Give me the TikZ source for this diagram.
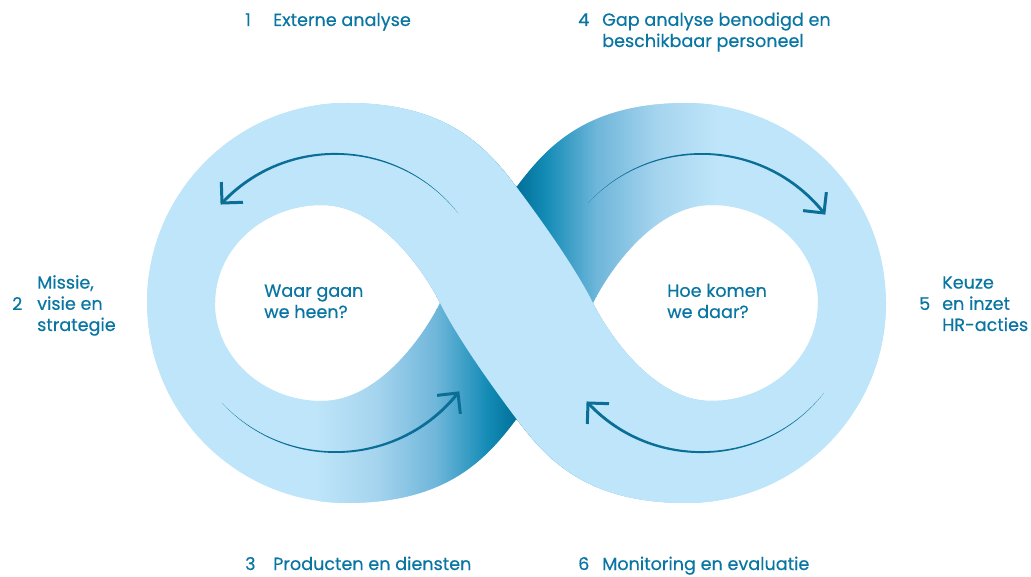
\documentclass[tikz,border=0pt]{standalone}
\usepackage{fontspec}
\setmainfont{Poppins}[FakeBold=0.4]
\usetikzlibrary{calc}

\definecolor{ribbon}{RGB}{190,229,249}
\definecolor{deep}{RGB}{0,112,152}
\definecolor{deepA}{RGB}{20,140,182}
\definecolor{deepB}{RGB}{110,182,218}
\definecolor{deepC}{RGB}{165,212,238}
\definecolor{arrowblue}{RGB}{10,110,150}
\definecolor{textblue}{RGB}{8,117,162}

\tikzset{
  numtext/.style={anchor=base west, inner sep=0pt, text=textblue,
    font=\fontsize{17.6}{21.2}\selectfont},
  steptext/.style={numtext, align=left},
}

% tapered arrow: tail, control 1, control 2, head, centre of the bend
\newcommand{\loopArrow}[5]{%
  \fill[arrowblue] (#1) .. controls ($(#2)!-0.8pt!(#5)$) and ($(#3)!-1.4pt!(#5)$) .. ($(#4)!-1.5pt!(#5)$)
    -- ($(#4)!1.5pt!(#5)$) .. controls ($(#3)!1.4pt!(#5)$) and ($(#2)!0.8pt!(#5)$) .. (#1) -- cycle;
  \draw[arrowblue, line width=3pt, miter limit=4]
    ($(#4)!21pt!45:(#3)$) -- (#4) -- ($(#4)!21pt!-45:(#3)$);
}

\newcommand{\outlinepath}{(Ptop) .. controls (486.5,429) and (447,473) .. (TL)
  .. controls (236.5,473) and (147,383.5) .. (LL)
  .. controls (147,162.5) and (236.5,73) .. (BL)
  .. controls (447,73) and (486.5,117) .. (Pbot)
  .. controls (546.5,117) and (586,73) .. (BR)
  .. controls (796.5,73) and (886,162.5) .. (RR)
  .. controls (886,383.5) and (796.5,473) .. (TR)
  .. controls (586,473) and (546.5,429) .. (Ptop) -- cycle}
\newcommand{\holespath}{(XL) .. controls (422.1,308.8) and (377,371) .. (HLt)
  .. controls (263,371) and (215,327) .. (HLl)
  .. controls (215,219) and (263,175) .. (HLb)
  .. controls (377,175) and (422.1,237.2) .. (XL) -- cycle
  (XR) .. controls (610.9,308.8) and (656,371) .. (HRt)
  .. controls (770,371) and (818,327) .. (HRr)
  .. controls (818,219) and (770,175) .. (HRb)
  .. controls (656,175) and (610.9,237.2) .. (XR) -- cycle}

\begin{document}
\begin{tikzpicture}[x=1pt, y=1pt]
  \useasboundingbox (0,0) rectangle (1031,576);

  % crossing and loops
  \coordinate (Ptop) at (516.5,389);
  \coordinate (Pbot) at (516.5,157);
  \coordinate (XL) at (440,273);
  \coordinate (XR) at (593,273);
  \coordinate (TL) at (347,473);
  \coordinate (LL) at (147,273);
  \coordinate (BL) at (347,73);
  \coordinate (TR) at (686,473);
  \coordinate (RR) at (886,273);
  \coordinate (BR) at (686,73);
  \coordinate (HLt) at (322,371);
  \coordinate (HLl) at (215,273);
  \coordinate (HLb) at (322,175);
  \coordinate (HRt) at (711,371);
  \coordinate (HRr) at (818,273);
  \coordinate (HRb) at (711,175);

  \fill[ribbon, even odd rule] \outlinepath \holespath;

  % shaded strand behind the crossing
  \begin{scope}[even odd rule]
    \clip \outlinepath \holespath;
    \shade[left color=ribbon, right color=deepC] (316.5,60) rectangle (377,480);
    \shade[left color=deepC, right color=deepB] (376.5,60) rectangle (437,480);
    \shade[left color=deepB, right color=deepA] (436.5,60) rectangle (487,480);
    \shade[left color=deepA, right color=deep] (486.5,60) rectangle (517,480);
    \shade[left color=deep, right color=deepA] (516,60) rectangle (546.5,480);
    \shade[left color=deepA, right color=deepB] (546,60) rectangle (596.5,480);
    \shade[left color=deepB, right color=deepC] (596,60) rectangle (656.5,480);
    \shade[left color=deepC, right color=ribbon] (656,60) rectangle (716.5,480);
  \end{scope}

  % strand in front
  \fill[ribbon] (LL) .. controls (147,383.5) and (236.5,473) .. (TL)
    .. controls (447,473) and (486.5,429) .. (Ptop)
    .. controls (540.5,357) and (575.1,308.8) .. (XR)
    .. controls (610.9,237.2) and (656,175) .. (HRb)
    .. controls (770,175) and (818,219) .. (HRr)
    -- (RR)
    .. controls (886,162.5) and (796.5,73) .. (BR)
    .. controls (586,73) and (546.5,117) .. (Pbot)
    .. controls (492.5,189) and (457.9,237.2) .. (XL)
    .. controls (422.1,308.8) and (377,371) .. (HLt)
    .. controls (263,371) and (215,327) .. (HLl)
    -- cycle;

  % arrows
  \coordinate (a1s) at (458,363);   \coordinate (a1e) at (222,373);
  \coordinate (a1p) at (398.7,437.5); \coordinate (a1q) at (287,442.4);
  \coordinate (a1c) at (336,266);
  \coordinate (a2s) at (222,173);   \coordinate (a2e) at (458,183);
  \coordinate (a2p) at (287,103.6); \coordinate (a2q) at (398.7,108.5);
  \coordinate (a2c) at (336,280);
  \coordinate (a3s) at (588,373);   \coordinate (a3e) at (824,363);
  \coordinate (a3p) at (653,442.4); \coordinate (a3q) at (764.7,437.5);
  \coordinate (a3c) at (702,266);
  \coordinate (a4s) at (824,183);   \coordinate (a4e) at (588,173);
  \coordinate (a4p) at (764.7,108.5); \coordinate (a4q) at (653,103.6);
  \coordinate (a4c) at (702,280);
  \loopArrow{a1s}{a1p}{a1q}{a1e}{a1c}
  \loopArrow{a2s}{a2p}{a2q}{a2e}{a2c}
  \loopArrow{a3s}{a3p}{a3q}{a3e}{a3c}
  \loopArrow{a4s}{a4p}{a4q}{a4e}{a4c}

  % steps (multi-line texts sit on their last baseline)
  \node[numtext] (N1) at (245,550) {1};
  \node[steptext] (T1) at (273,550) {Externe analyse};
  \node[numtext] (N4) at (578,550) {4};
  \node[steptext] (T4) at (602,529) {Gap analyse benodigd en\\beschikbaar personeel};
  \node[numtext] (N2) at (12,266) {2};
  \node[steptext] (T2) at (37,245) {Missie,\\visie en\\strategie};
  \node[numtext] (N5) at (919,266) {5};
  \node[steptext] (T5) at (942,245) {Keuze\\en inzet\\HR-acties};
  \node[numtext] (N3) at (245,6) {3};
  \node[steptext] (T3) at (273,6) {Producten en diensten};
  \node[numtext] (N6) at (578,6) {6};
  \node[steptext] (T6) at (602,6) {Monitoring en evaluatie};

  % questions
  \node[steptext] (Q1) at (264,258) {Waar gaan\\we heen?};
  \node[steptext] (Q2) at (667,258) {Hoe komen\\we daar?};
\end{tikzpicture}
\end{document}
